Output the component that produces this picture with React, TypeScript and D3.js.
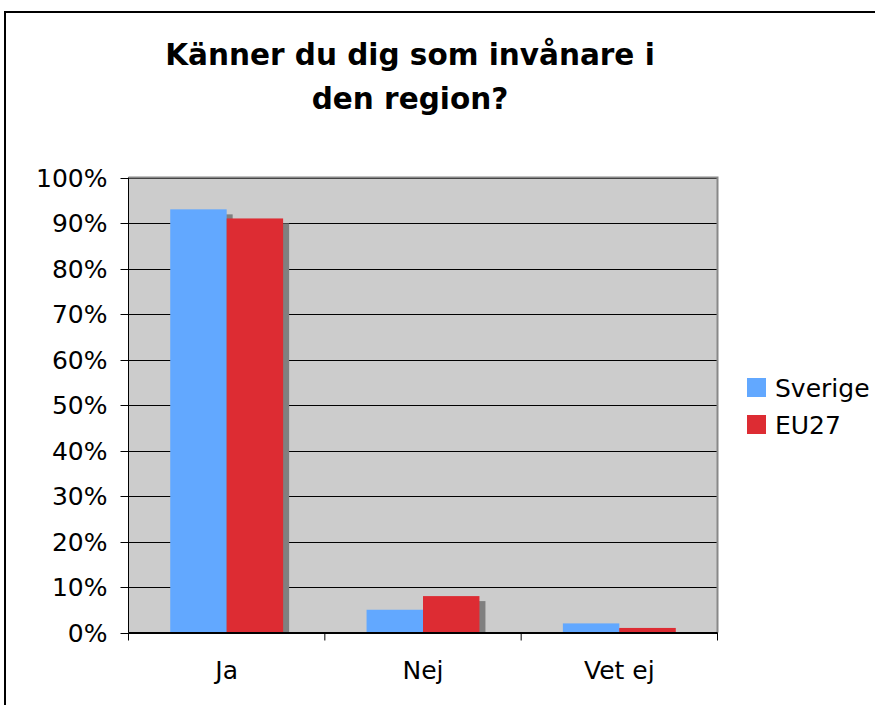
import React from "react";
import * as d3 from "d3";

const categories = ["Ja", "Nej", "Vet ej"];
const seriesNames = ["Sverige", "EU27"];
const sverige = [0.93, 0.05, 0.02];
const eu27 = [0.91, 0.08, 0.01];
const yTicks = [0, 0.1, 0.2, 0.3, 0.4, 0.5, 0.6, 0.7, 0.8, 0.9, 1.0];
const colors = ["#62A8FF", "#DD2C33"];
const titleLines = ["Känner du dig som invånare i", "den region?"];

const W = 875;
const H = 705;
const plot = { left: 128.5, right: 717.5, top: 177.5, bottom: 632.5 };
const FONT = "'DejaVu Sans', Verdana, sans-serif";

export default function App() {
  const values = [sverige, eu27];
  const y = d3.scaleLinear().domain([0, 1]).range([plot.bottom, plot.top]);
  const x = d3.scaleBand<string>().domain(categories).range([plot.left, plot.right]).padding(0);
  const bw = x.bandwidth();
  const inner = d3
    .scaleBand<string>()
    .domain(seriesNames)
    .range([bw * 0.2125, bw * (1 - 0.2125)])
    .padding(0);
  const fmt = d3.format(".0%");
  const shadowDx = 6;
  const shadowDy = 5;

  const bars = categories.flatMap((c, ci) =>
    seriesNames.map((s, si) => ({
      key: c + s,
      x: (x(c) as number) + (inner(s) as number),
      w: inner.bandwidth(),
      y: y(values[si][ci]),
      h: y(0) - y(values[si][ci]),
      color: colors[si],
    }))
  );

  return (
    <svg
      width={W}
      height={H}
      style={{ position: "absolute", left: 0, top: 0, background: "#fff" }}
      fontFamily={FONT}
    >
      <defs>
        <clipPath id="plotClip">
          <rect x={plot.left} y={plot.top} width={plot.right - plot.left} height={plot.bottom - plot.top} />
        </clipPath>
      </defs>
      {/* outer chart border */}
      <rect x={5} y={12} width={W + 20} height={H + 20} fill="#fff" stroke="#000" strokeWidth={2} />

      {/* title */}
      {titleLines.map((t, i) => (
        <text
          key={t}
          x={410}
          y={64.5 + i * 44}
          textAnchor="middle"
          fontWeight="bold"
          fontSize={29.5}
          fill="#000"
        >
          {t}
        </text>
      ))}

      {/* plot background */}
      <rect
        x={plot.left}
        y={plot.top}
        width={plot.right - plot.left}
        height={plot.bottom - plot.top}
        fill="#CCCCCC"
      />
      {/* gridlines */}
      {yTicks.map((t) => (
        <line
          key={"g" + t}
          x1={plot.left}
          x2={plot.right}
          y1={Math.round(y(t)) + 0.5}
          y2={Math.round(y(t)) + 0.5}
          stroke="#000"
          strokeWidth={1}
        />
      ))}

      {/* shadows */}
      <g clipPath="url(#plotClip)">
        {bars.map((b) => (
          <rect key={"s" + b.key} x={b.x + shadowDx} y={b.y + shadowDy} width={b.w} height={b.h} fill="#808080" />
        ))}
      </g>
      {/* bars */}
      {bars.map((b) => (
        <rect key={b.key} x={b.x} y={b.y} width={b.w} height={b.h} fill={b.color} />
      ))}

      {/* plot border */}
      <path
        d={`M${plot.left},${plot.top}H${plot.right}V${plot.bottom}`}
        fill="none"
        stroke="#888"
        strokeWidth={2}
      />

      {/* y axis */}
      <line x1={plot.left} x2={plot.left} y1={plot.top} y2={plot.bottom} stroke="#000" strokeWidth={1} />
      {yTicks.map((t) => (
        <g key={"yt" + t}>
          <line
            x1={plot.left - 8}
            x2={plot.left}
            y1={Math.round(y(t)) + 0.5}
            y2={Math.round(y(t)) + 0.5}
            stroke="#000"
          />
          <text x={plot.left - 21} y={y(t)} dy="0.36em" textAnchor="end" fontSize={25} fill="#000">
            {fmt(t)}
          </text>
        </g>
      ))}

      {/* x axis */}
      <line x1={plot.left} x2={plot.right} y1={plot.bottom} y2={plot.bottom} stroke="#000" strokeWidth={1} />
      {[...categories.map((c) => x(c) as number), plot.right].map((tx, i) => (
        <line key={"xt" + i} x1={tx} x2={tx} y1={plot.bottom} y2={plot.bottom + 8} stroke="#000" />
      ))}
      {categories.map((c) => (
        <text
          key={"xl" + c}
          x={(x(c) as number) + bw / 2}
          y={679}
          textAnchor="middle"
          fontSize={25}
          fill="#000"
        >
          {c}
        </text>
      ))}

      {/* legend */}
      {seriesNames.map((s, i) => (
        <g key={"lg" + s} transform={`translate(747, ${378 + i * 37})`}>
          <rect x={0} y={0} width={19} height={19} fill={colors[i]} />
          <text x={28} y={18.5} fontSize={25} fill="#000">
            {s}
          </text>
        </g>
      ))}
    </svg>
  );
}
